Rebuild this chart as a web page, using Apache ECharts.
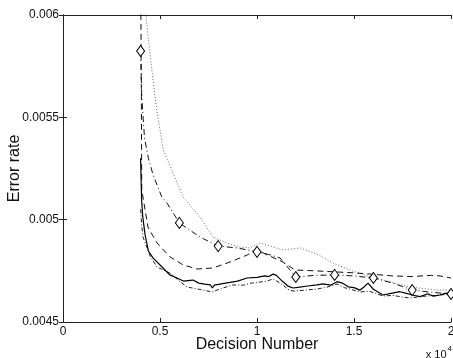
<!DOCTYPE html>
<html>
<head>
<meta charset="utf-8">
<script src="https://cdn.jsdelivr.net/npm/echarts@6/dist/echarts.min.js"></script>
<style>
html,body{margin:0;padding:0;background:#fff;}
#c{width:453px;height:358px;}
</style>
</head>
<body>
<div id="c"></div>
<script>
// ---- data ----
const xTickLabels = ['0', '0.5', '1', '1.5', '2'];
const yTickLabels = ['0.0045', '0.005', '0.0055', '0.006'];
const xAxisTitle = 'Decision Number';
const yAxisTitle = 'Error rate';

// solid line
const solidPts = [
  [4000,0.00530],[4050,0.00510],[4110,0.005015],[4230,0.004927],[4400,0.004847],
  [4640,0.004813],[5155,0.004764],[5500,0.004730],[5876,0.004715],[6200,0.004700],
  [6700,0.004705],[7000,0.004690],[7300,0.004685],[7600,0.004681],[7700,0.004666],
  [7800,0.004680],[8454,0.004691],[9000,0.004700],[9485,0.004715],[10000,0.004718],
  [10400,0.004725],[10600,0.004722],[10825,0.004734],[11000,0.004728],[11300,0.004700],
  [11600,0.004675],[11856,0.004666],[12200,0.004670],[12600,0.004676],[13093,0.004681],
  [13400,0.004686],[13800,0.004680],[14124,0.004697],[14400,0.004690],[14700,0.004672],
  [15000,0.004668],[15309,0.004656],[15500,0.004670],[15722,0.004690],[16000,0.004660],
  [16495,0.004632],[16900,0.004640],[17371,0.004648],[17700,0.004640],[18000,0.004632],
  [18402,0.004624],[18800,0.004638],[19100,0.004626],[19433,0.004632],[19700,0.004640],
  [20000,0.004642]
];
// lower dash-dot line
const dashDotLowPts = [
  [4000,0.00505],[4060,0.00497],[4124,0.004915],[4500,0.004820],[4845,0.004769],
  [5515,0.004739],[6000,0.004700],[6392,0.004671],[7000,0.004660],[7680,0.004647],
  [8200,0.004665],[8763,0.004681],[9300,0.004680],[9700,0.004690],[10155,0.004695],
  [10500,0.004700],[10825,0.004710],[11200,0.004690],[11600,0.004660],[11856,0.004651],
  [12400,0.004655],[13093,0.004661],[13600,0.004670],[14124,0.004686],[14500,0.004668],
  [15000,0.004655],[15309,0.004647],[15800,0.004650],[16495,0.004627],[17000,0.004630],
  [17500,0.004622],[17887,0.004617],[18500,0.004625],[19200,0.004630],[20000,0.004637]
];
// dashed line
const dashedPts = [
  [4000,0.00625],[4040,0.00560],[4060,0.005145],[4381,0.004964],[4845,0.004886],
  [5515,0.004818],[6186,0.004779],[6907,0.004759],[7732,0.004764],[8608,0.004793],
  [9485,0.004827],[10000,0.004852],[10600,0.004825],[11340,0.004793],[11959,0.004754],
  [13000,0.004750],[14000,0.004745],[15000,0.004740],[16000,0.004733],[17000,0.004725],
  [18000,0.004722],[19000,0.004728],[19433,0.004725],[20000,0.004715]
];
// dash-dot line with diamond markers (markers on every 2000)
const diamondPts = [
  [4000,0.005824],[4060,0.005600],[4200,0.005400],[4400,0.005300],[4640,0.005220],
  [5088,0.005112],[5361,0.005081],[6000,0.004984],[7062,0.004915],[8000,0.004871],
  [8969,0.004862],[10000,0.004843],[10600,0.004830],[11186,0.004813],[12000,0.004720],
  [13000,0.004728],[14000,0.004730],[15000,0.004725],[16000,0.004715],[17000,0.004690],
  [18000,0.004656],[19000,0.004645],[20000,0.004637]
];
const diamondStep = 2000;
// dotted line
const dottedPts = [
  [4150,0.00630],[4300,0.005976],[4521,0.005780],[4830,0.005536],[5170,0.005340],
  [5670,0.005228],[6186,0.005111],[7062,0.005013],[7732,0.004915],[8454,0.004886],
  [9124,0.004866],[9639,0.004862],[10155,0.004886],[10700,0.004870],[11340,0.004852],
  [12216,0.004862],[13093,0.004832],[13918,0.004788],[14794,0.004754],[15600,0.004728],
  [16495,0.004705],[17887,0.004671],[19278,0.004656],[20000,0.004655]
];

// ---- chart ----
const chart = echarts.init(document.getElementById('c'));
const FONT = 'Liberation Sans, Arial, Helvetica, sans-serif';
const axisCol = '#222';

function yLabel(v){
  let best = yTickLabels[0], d = Infinity;
  yTickLabels.forEach(s => { const dd = Math.abs(parseFloat(s) - v); if (dd < d) { d = dd; best = s; } });
  return best;
}
function xLabel(v){
  const i = Math.round(v / 5000);
  return xTickLabels[i] !== undefined ? xTickLabels[i] : '';
}

const lineBase = { type: 'line', showSymbol: false, symbol: 'none', smooth: false, clip: true, z: 3 };

chart.setOption({
  animation: false,
  backgroundColor: '#fff',
  grid: { left: 63, right: 2, top: 15, bottom: 36, containLabel: false, outerBoundsMode: 'none' },
  xAxis: [
    {
      type: 'value', min: 0, max: 20000, interval: 5000, position: 'bottom',
      name: xAxisTitle, nameLocation: 'middle', nameGap: 15, nameMoveOverlap: false,
      nameTextStyle: { fontFamily: FONT, fontSize: 16, color: '#111' },
      axisLine: { show: true, lineStyle: { color: axisCol, width: 1 } },
      axisTick: { show: true, inside: true, length: 4, lineStyle: { color: axisCol } },
      axisLabel: { show: true, margin: 4, fontFamily: FONT, fontSize: 12, color: '#111', formatter: xLabel },
      splitLine: { show: false }
    },
    {
      type: 'value', min: 0, max: 20000, interval: 5000, position: 'top',
      axisLine: { show: true, lineStyle: { color: axisCol, width: 1 } },
      axisTick: { show: true, inside: true, length: 4, lineStyle: { color: axisCol } },
      axisLabel: { show: false }, splitLine: { show: false }
    }
  ],
  yAxis: [
    {
      type: 'value', min: 0.0045, max: 0.006, interval: 0.0005, position: 'left',
      name: yAxisTitle, nameLocation: 'middle', nameGap: 40, nameRotate: 90, nameMoveOverlap: false,
      nameTextStyle: { fontFamily: FONT, fontSize: 16, color: '#111' },
      axisLine: { show: true, lineStyle: { color: axisCol, width: 1 } },
      axisTick: { show: true, inside: true, length: 4, lineStyle: { color: axisCol } },
      axisLabel: { show: true, margin: 4, fontFamily: FONT, fontSize: 12, color: '#111', formatter: yLabel },
      splitLine: { show: false }
    },
    {
      type: 'value', min: 0.0045, max: 0.006, interval: 0.0005, position: 'right',
      axisLine: { show: true, lineStyle: { color: axisCol, width: 1 } },
      axisTick: { show: true, inside: true, length: 4, lineStyle: { color: axisCol } },
      axisLabel: { show: false }, splitLine: { show: false }
    }
  ],
  graphic: [
    {
      type: 'text', right: 1, top: 345,
      style: {
        text: '{a|x 10}{b|4}',
        rich: {
          a: { fontFamily: FONT, fontSize: 11, fill: '#111', padding: [6, 0, 0, 0] },
          b: { fontFamily: FONT, fontSize: 8, fill: '#111', padding: [0, 0, 6, 1] }
        }
      }
    }
  ],
  series: [
    Object.assign({}, lineBase, { name: 'dotted', data: dottedPts,
      lineStyle: { color: '#666', width: 1, type: [1, 2] } }),
    Object.assign({}, lineBase, { name: 'dashed', data: dashedPts,
      lineStyle: { color: '#111', width: 1, type: [6, 4] } }),
    Object.assign({}, lineBase, { name: 'diamond', data: diamondPts,
      lineStyle: { color: '#111', width: 1, type: [6, 3, 1, 3] } }),
    {
      type: 'scatter', name: 'diamond markers', z: 4, clip: false,
      data: diamondPts.filter(p => p[0] % diamondStep === 0),
      symbol: 'diamond', symbolSize: [8, 11],
      itemStyle: { color: '#fff', borderColor: '#000', borderWidth: 1, opacity: 1 }
    },
    Object.assign({}, lineBase, { name: 'dashdot-low', data: dashDotLowPts,
      lineStyle: { color: '#222', width: 1, type: [4, 2, 1, 2] } }),
    Object.assign({}, lineBase, { name: 'solid', data: solidPts,
      lineStyle: { color: '#000', width: 1.2, type: 'solid' } })
  ]
});
</script>
</body>
</html>
